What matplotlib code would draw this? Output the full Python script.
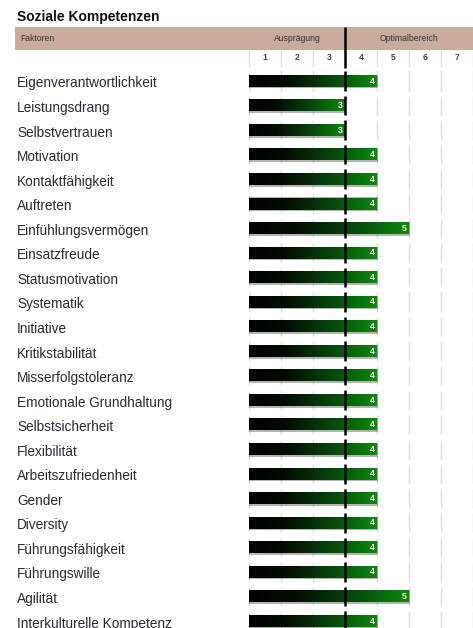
import numpy as np
import matplotlib.pyplot as plt
from matplotlib.colors import LinearSegmentedColormap
from matplotlib.patches import Rectangle
from matplotlib.transforms import blended_transform_factory

plt.rcParams["font.family"] = ["Liberation Sans", "DejaVu Sans"]

title = "Soziale Kompetenzen"
faktoren = [
    "Eigenverantwortlichkeit", "Leistungsdrang", "Selbstvertrauen", "Motivation",
    "Kontaktfähigkeit", "Auftreten", "Einfühlungsvermögen", "Einsatzfreude",
    "Statusmotivation", "Systematik", "Initiative", "Kritikstabilität",
    "Misserfolgstoleranz", "Emotionale Grundhaltung", "Selbstsicherheit",
    "Flexibilität", "Arbeitszufriedenheit", "Gender", "Diversity",
    "Führungsfähigkeit", "Führungswille", "Agilität", "Interkulturelle Kompetenz",
]
auspraegung = [4, 3, 3, 4, 4, 4, 5, 4, 4, 4, 4, 4, 4, 4, 4, 4, 4, 4, 4, 4, 4, 5, 4]
skala = [1, 2, 3, 4, 5, 6, 7]
optimum_start = 3

W, H = 473, 628
fig = plt.figure(figsize=(W / 100, H / 100), dpi=100)

# header layer in pixel coordinates
hdr = fig.add_axes([0, 0, 1, 1])
hdr.set_xlim(0, W)
hdr.set_ylim(H, 0)
hdr.axis("off")
hdr.text(17, 17, title, fontsize=10, fontweight="bold", va="center", ha="left", color="#111111")
hdr.add_patch(Rectangle((15, 27), W - 15, 23, facecolor="#c9ac9c", edgecolor="none"))
hdr.text(20, 38.5, "Faktoren", fontsize=6.2, va="center", ha="left", color="#333333")

# main bar axes
row_h = 24.55
top_px, first_px = 70, 81
ax = fig.add_axes([249 / W, 0, 224 / W, (H - top_px) / H])
ax.axis("off")
ax.patch.set_alpha(0)

tr_xfig = blended_transform_factory(ax.transData, fig.transFigure)
y_of = lambda px: 1 - px / H

# header captions and scale numbers
ax.text(optimum_start / 2, y_of(38.5), "Ausprägung", transform=tr_xfig,
        fontsize=6.2, ha="center", va="center", color="#333333")
ax.text((optimum_start + len(skala)) / 2, y_of(38.5), "Optimalbereich", transform=tr_xfig,
        fontsize=6.2, ha="center", va="center", color="#333333")
for k in skala:
    ax.text(k - 0.5, y_of(58), str(k), transform=tr_xfig, fontsize=6.2,
            fontweight="bold", ha="center", va="center", color="#444444")
for k in range(len(skala) + 1):
    if k == optimum_start:
        ax.plot([k, k], [y_of(27), y_of(68)], transform=tr_xfig, color="black",
                lw=1.8, clip_on=False, solid_capstyle="butt")
    else:
        ax.plot([k, k], [y_of(51), y_of(66)], transform=tr_xfig, color="#dddddd",
                lw=1, clip_on=False)

cmap = LinearSegmentedColormap.from_list(
    "bar", [(0, "#000000"), (0.3, "#020e02"), (0.65, "#05480a"), (1, "#0c8a0c")])
grad = np.linspace(0, 1, 256).reshape(1, -1)

tr_label = blended_transform_factory(fig.transFigure, ax.transData)
bh = 0.47
for i, (name, v) in enumerate(zip(faktoren, auspraegung)):
    ax.text(17 / W, i + 0.1, name, transform=tr_label, fontsize=9.8,
            ha="left", va="center", color="#2a2a3a", clip_on=False)
    for k in range(len(skala) + 1):
        if k != optimum_start:
            ax.vlines(k, i - 0.39, i + 0.39, color="#dcdcdc", lw=1, zorder=1)
    ax.add_patch(Rectangle((-0.03, i - bh / 2 - 0.02), v + 0.07, bh + 0.09,
                           facecolor="#444444", alpha=0.4, edgecolor="none", zorder=2))
    ax.imshow(grad, cmap=cmap, aspect="auto", extent=[0, v, i + bh / 2, i - bh / 2],
              zorder=3, interpolation="bilinear")
    ax.text(v - 0.06, i, str(v), fontsize=6.3, fontweight="bold", color="white",
            ha="right", va="center", zorder=5)
    ax.vlines(optimum_start, i - 0.4, i + 0.4, color="black", lw=1.8, zorder=4)

ax.set_xlim(0, len(skala))
ax.set_ylim((H - first_px) / row_h, (top_px - first_px) / row_h)

fig.savefig("out.png", dpi=100)
